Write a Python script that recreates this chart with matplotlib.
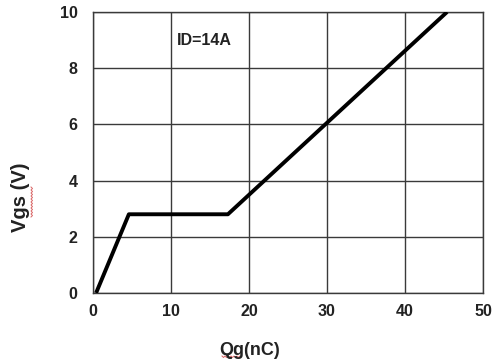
import matplotlib
matplotlib.use("Agg")
import matplotlib.pyplot as plt
import numpy as np

# gate charge curve
qg = [0.4, 4.6, 17.3, 45.4]
vgs = [0.0, 2.8, 2.8, 10.0]

x_ticks = [0, 10, 20, 30, 40, 50]
y_ticks = [0, 2, 4, 6, 8, 10]

plt.rcParams['font.family'] = ['Liberation Sans', 'DejaVu Sans']
plt.rcParams['font.weight'] = 'bold'

W, H = 493, 363
fig = plt.figure(figsize=(W / 100, H / 100), dpi=100)
ax = fig.add_axes([0.1886, 0.193, 0.791, 0.774])

ax.plot(qg, vgs, color='black', lw=2.8, solid_capstyle='butt', zorder=3)

ax.set_xlim(0, 50)
ax.set_ylim(0, 10)
ax.set_xticks(x_ticks)
ax.set_yticks(y_ticks)
ax.grid(True, color='#3a3a3a', lw=1.0)
for s in ax.spines.values():
    s.set_color('#3a3a3a')
    s.set_linewidth(1.0)
ax.tick_params(length=0, labelsize=11.5, colors='#222222')
ax.tick_params(axis='x', pad=8)
ax.tick_params(axis='y', pad=11)
for lbl in ax.get_xticklabels() + ax.get_yticklabels():
    lbl.set_fontweight('bold')

ax.text(10.7, 9.0, 'ID=14A', fontsize=11.5, fontweight='bold', color='#222222',
        va='center', ha='left')

fig.text(0.507, 0.035, 'Qg(nC)', fontsize=13, fontweight='bold', color='#222222',
         ha='center', va='center')
fig.text(0.042, 0.457, 'Vgs (V)', fontsize=14.5, fontweight='bold', color='#222222',
         ha='center', va='center', rotation=90)


# spell-check squiggles (pixel coords, y from top)
def squiggle(x0, y0, length, vertical=False):
    t = np.arange(0, length + 1, 1.5)
    w = np.where(np.arange(len(t)) % 2 == 0, 0.0, 1.5)
    if vertical:
        xs, ys = x0 + w, y0 + t
    else:
        xs, ys = x0 + t, y0 + w
    fig.add_artist(plt.Line2D(xs / W, 1 - ys / H, color='#d04040', lw=0.7,
                              alpha=0.8, transform=fig.transFigure))


squiggle(222, 356, 18)
squiggle(31, 187, 30, vertical=True)

fig.savefig('out.png', dpi=100)
